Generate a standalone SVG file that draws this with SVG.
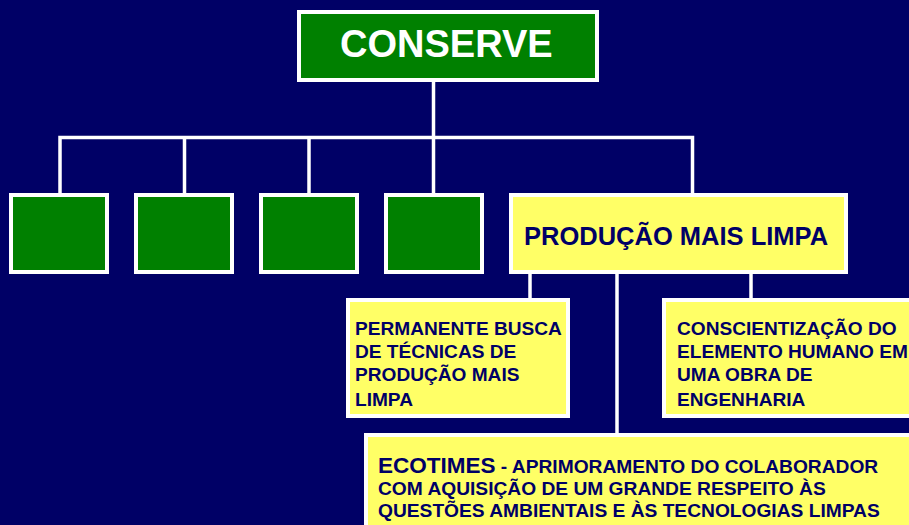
<svg xmlns="http://www.w3.org/2000/svg" width="909" height="525" viewBox="0 0 909 525">
<style>
.bg{fill:#000066}
.g{fill:#008000;stroke:#ffffff;stroke-width:4}
.y{fill:#ffff66;stroke:#ffffff;stroke-width:4}
.c{fill:none;stroke:#ffffff;stroke-width:3.5}
.t{font-family:"Liberation Sans",Arial,sans-serif;font-weight:bold;fill:#000066}
.tw{font-family:"Liberation Sans",Arial,sans-serif;font-weight:bold;fill:#ffffff}
</style>
<rect class="bg" x="0" y="0" width="909" height="525"/>
<g id="connectors">
<path class="c" d="M433.5,82 V137.5"/>
<path class="c" d="M60,193 V137.5 H692.5 V193"/>
<path class="c" d="M184.5,137.5 V193"/>
<path class="c" d="M309,137.5 V193"/>
<path class="c" d="M433.5,137.5 V193"/>
<path class="c" d="M530,274 V298"/>
<path class="c" d="M751,274 V298"/>
<path class="c" d="M617,274 V433"/>
</g>
<g id="conserve">
<rect class="g" x="299" y="12" width="298" height="68"/>
<text class="tw" x="340" y="57" font-size="38">CONSERVE</text>
</g>
<g id="box1"><rect class="g" x="11" y="195" width="96" height="77"/></g>
<g id="box2"><rect class="g" x="136" y="195" width="96" height="77"/></g>
<g id="box3"><rect class="g" x="261" y="195" width="96" height="77"/></g>
<g id="box4"><rect class="g" x="386" y="195" width="96" height="77"/></g>
<g id="producao">
<rect class="y" x="511" y="195" width="335" height="77"/>
<text class="t" x="524" y="245" font-size="25.5">PRODUÇÃO MAIS LIMPA</text>
</g>
<g id="permanente">
<rect class="y" x="348" y="300" width="220" height="116"/>
<text class="t" font-size="19.1"><tspan x="355" y="335">PERMANENTE BUSCA</tspan><tspan x="355" y="358">DE TÉCNICAS DE</tspan><tspan x="355" y="381">PRODUÇÃO MAIS</tspan><tspan x="355" y="406">LIMPA</tspan></text>
</g>
<g id="conscientizacao">
<rect class="y" x="664" y="300" width="260" height="116"/>
<text class="t" font-size="19.1"><tspan x="677" y="335">CONSCIENTIZAÇÃO DO</tspan><tspan x="677" y="358">ELEMENTO HUMANO EM</tspan><tspan x="677" y="381">UMA OBRA DE</tspan><tspan x="677" y="406">ENGENHARIA</tspan></text>
</g>
<g id="ecotimes">
<rect class="y" x="366" y="435" width="560" height="100"/>
<text class="t" font-size="19.2"><tspan x="378" y="473" font-size="22.5">ECOTIMES</tspan><tspan> - APRIMORAMENTO DO COLABORADOR</tspan><tspan x="378" y="495">COM AQUISIÇÃO DE UM GRANDE RESPEITO ÀS</tspan><tspan x="378" y="517">QUESTÕES AMBIENTAIS E ÀS TECNOLOGIAS LIMPAS</tspan></text>
</g>
</svg>
